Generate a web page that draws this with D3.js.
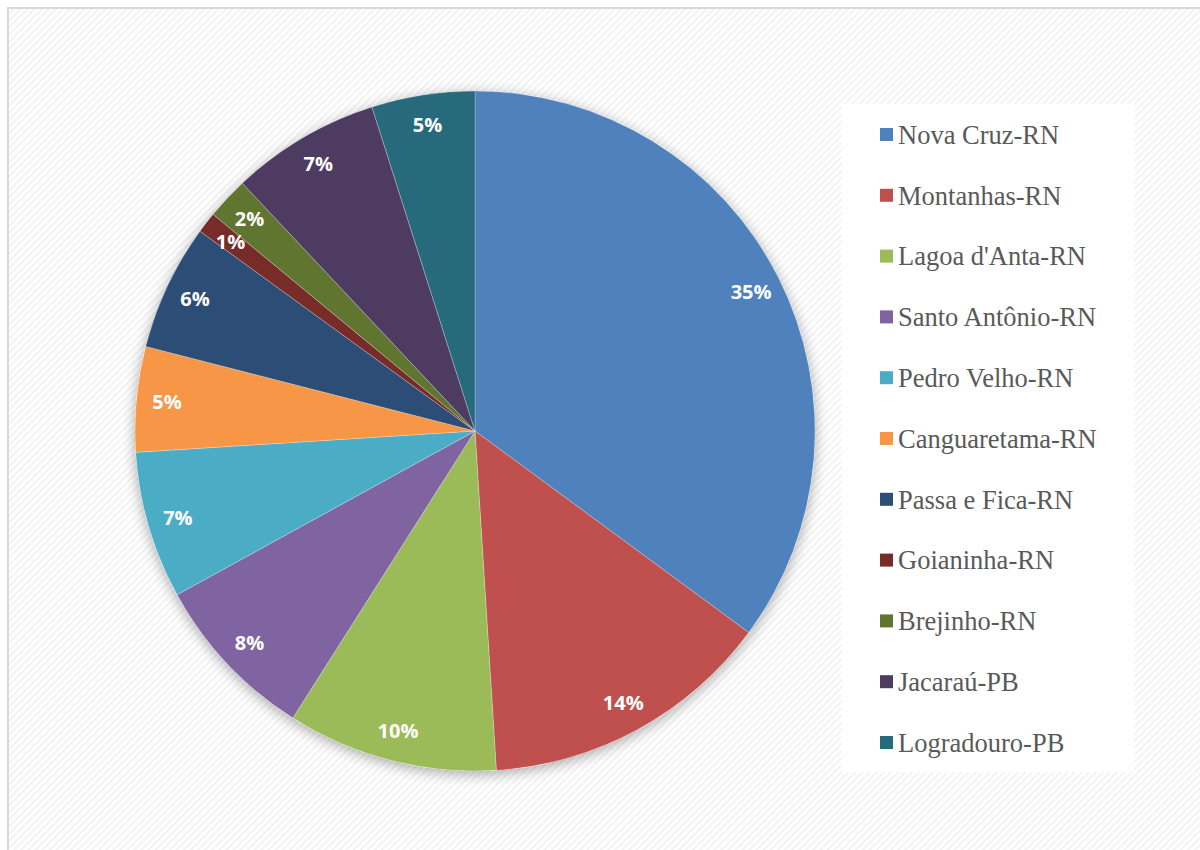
<!DOCTYPE html>
<html>
<head>
    <meta charset="utf-8">
    <title>Pie chart</title>
    <script src="https://cdnjs.cloudflare.com/ajax/libs/d3/7.8.5/d3.min.js"></script>
    <style>
        body { margin: 0; background: white; }
        svg { display: block; }
    </style>
</head>
<body>
<div id="chart"></div>
<script>
// Data
const cities = ['Nova Cruz-RN', 'Montanhas-RN', "Lagoa d'Anta-RN", 'Santo Antônio-RN', 'Pedro Velho-RN',
    'Canguaretama-RN', 'Passa e Fica-RN', 'Goianinha-RN', 'Brejinho-RN', 'Jacaraú-PB', 'Logradouro-PB'];
const shares = [35.1, 13.9, 10.0, 8.0, 7.0, 5.0, 6.0, 1.0, 2.0, 7.1, 4.9];
const colors = ['#4F81BD', '#C0504D', '#9BBB59', '#8064A2', '#4BACC6', '#F79646',
    '#2C4D75', '#772C2A', '#5F7530', '#4D3B62', '#276A7C'];

const W = 1200, H = 850;
const cx = 475, cy = 431, R = 340;

const svg = d3.select('#chart').append('svg')
    .attr('width', W).attr('height', H);

const defs = svg.append('defs');

// diagonal stripe background
const pat = defs.append('pattern')
    .attr('id', 'stripes')
    .attr('patternUnits', 'userSpaceOnUse')
    .attr('width', 5).attr('height', 5)
    .attr('patternTransform', 'rotate(45)');
pat.append('rect').attr('width', 5).attr('height', 5).attr('fill', '#ffffff');
pat.append('rect').attr('width', 2).attr('height', 5).attr('fill', '#f3f3f3');

const shadow = defs.append('filter')
    .attr('id', 'shadow')
    .attr('x', '-10%').attr('y', '-10%').attr('width', '120%').attr('height', '120%');
shadow.append('feGaussianBlur').attr('in', 'SourceAlpha').attr('stdDeviation', 7);
shadow.append('feOffset').attr('dx', 0).attr('dy', 3).attr('result', 'blur');
shadow.append('feComponentTransfer').append('feFuncA').attr('type', 'linear').attr('slope', 0.35);
const merge = shadow.append('feMerge');
merge.append('feMergeNode');
merge.append('feMergeNode').attr('in', 'SourceGraphic');

// chart frame
svg.append('rect')
    .attr('x', 8).attr('y', 8)
    .attr('width', W + 10).attr('height', H + 10)
    .attr('fill', 'url(#stripes)')
    .attr('stroke', '#d9d9d9')
    .attr('stroke-width', 2);

// pie
const pie = d3.pie().sort(null).value(d => d)(shares);
const arc = d3.arc().innerRadius(0).outerRadius(R);
const labelArc = d3.arc().innerRadius(R * 0.91).outerRadius(R * 0.91);
const total = d3.sum(shares);

const g = svg.append('g').attr('transform', `translate(${cx},${cy})`);

g.append('circle').attr('r', R).attr('fill', '#ffffff').attr('filter', 'url(#shadow)');

g.selectAll('path.slice')
    .data(pie)
    .enter().append('path')
    .attr('class', 'slice')
    .attr('d', arc)
    .attr('fill', (d, i) => colors[i])
    .attr('stroke', 'rgba(255,255,255,0.3)')
    .attr('stroke-width', 0.8);

g.selectAll('text.pct')
    .data(pie)
    .enter().append('text')
    .attr('class', 'pct')
    .attr('transform', d => `translate(${labelArc.centroid(d)})`)
    .attr('text-anchor', 'middle')
    .attr('dy', '0.36em')
    .attr('font-family', '"Open Sans", "Liberation Sans", sans-serif')
    .attr('font-weight', 'bold')
    .attr('font-size', 20)
    .attr('fill', 'white')
    .text(d => Math.round(d.value / total * 100) + '%');

// legend
const legend = svg.append('g');
legend.append('rect')
    .attr('x', 842).attr('y', 104)
    .attr('width', 292).attr('height', 668)
    .attr('fill', '#ffffff').attr('opacity', 0.92);

const ly = d3.scalePoint().domain(cities).range([135, 743]);

const items = legend.selectAll('g.item')
    .data(cities)
    .enter().append('g')
    .attr('class', 'item')
    .attr('transform', d => `translate(880,${ly(d)})`);

items.append('rect')
    .attr('x', 0).attr('y', -7)
    .attr('width', 13).attr('height', 13)
    .attr('fill', (d, i) => colors[i]);

items.append('text')
    .attr('x', 18).attr('dy', '0.33em')
    .attr('font-family', '"Liberation Serif", "Times New Roman", serif')
    .attr('font-size', 26.5)
    .attr('fill', '#595959')
    .text(d => d);
</script>
</body>
</html>
